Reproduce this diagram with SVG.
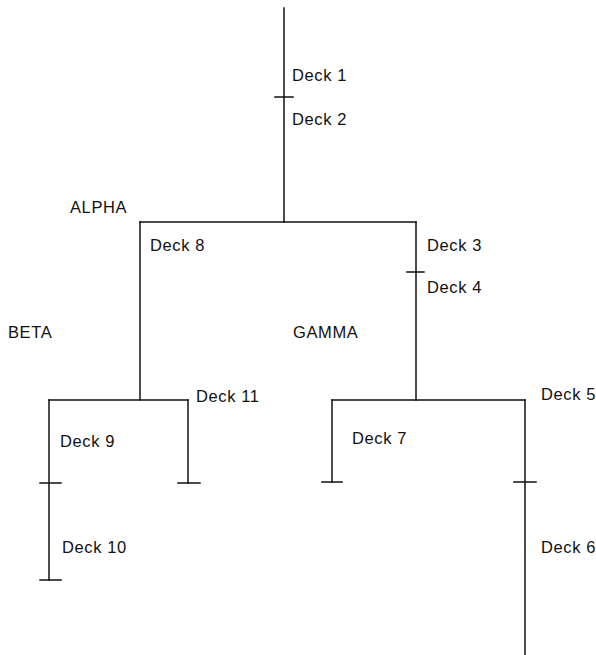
<svg xmlns="http://www.w3.org/2000/svg" width="596" height="655" viewBox="0 0 596 655">
<style>
.ln{stroke:#111;stroke-width:1.5;fill:none;stroke-linecap:square}
.t{font-family:"Liberation Sans",Arial,sans-serif;font-size:16.5px;fill:#111;letter-spacing:0.6px}
</style>
<rect width="596" height="655" fill="#fff"/>
<g id="connectors" class="ln">
<path d="M284 8V222"/>
<path d="M275 97H293"/>
<path d="M140 222H416"/>
<path d="M140 222V400"/>
<path d="M416 222V400"/>
<path d="M407 272H424"/>
<path d="M49 400H188"/>
<path d="M49 400V580"/>
<path d="M40 483H61"/>
<path d="M40 580H61"/>
<path d="M188 400V483"/>
<path d="M178 483H200"/>
<path d="M332 400H525"/>
<path d="M332 400V482"/>
<path d="M322 482H342"/>
<path d="M525 400V655"/>
<path d="M514 482H536"/>
</g>
<g id="deck1"><text class="t" x="292" y="81">Deck 1</text></g>
<g id="deck2"><text class="t" x="292" y="125">Deck 2</text></g>
<g id="alpha"><text class="t" x="70" y="213">ALPHA</text></g>
<g id="deck8"><text class="t" x="150" y="251">Deck 8</text></g>
<g id="deck3"><text class="t" x="427" y="251">Deck 3</text></g>
<g id="deck4"><text class="t" x="427" y="293">Deck 4</text></g>
<g id="beta"><text class="t" x="8" y="338">BETA</text></g>
<g id="gamma"><text class="t" x="293" y="338">GAMMA</text></g>
<g id="deck11"><text class="t" x="196" y="402">Deck 11</text></g>
<g id="deck9"><text class="t" x="60" y="447">Deck 9</text></g>
<g id="deck10"><text class="t" x="62" y="553">Deck 10</text></g>
<g id="deck5"><text class="t" x="541" y="400">Deck 5</text></g>
<g id="deck7"><text class="t" x="352" y="444">Deck 7</text></g>
<g id="deck6"><text class="t" x="541" y="553">Deck 6</text></g>
</svg>
